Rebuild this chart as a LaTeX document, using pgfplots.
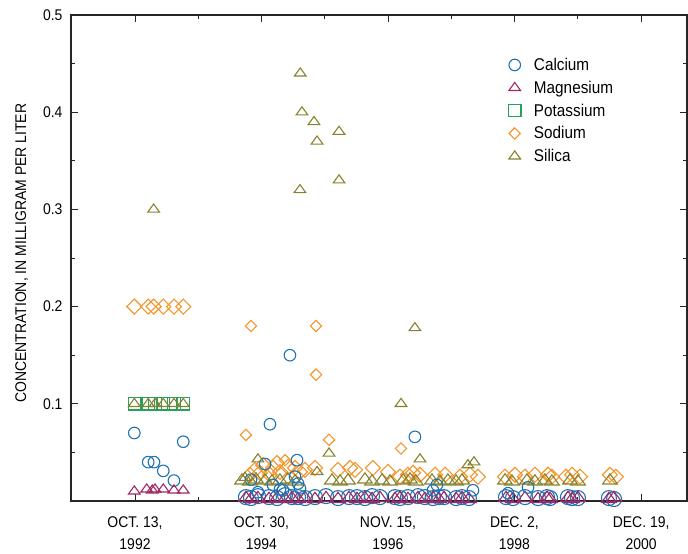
\documentclass[border=0pt]{standalone}
\usepackage{fontspec}
\setmainfont{Liberation Sans}[FakeStretch=0.9]
\usepackage{pgfplots}
\pgfplotsset{compat=1.18}
\definecolor{calc}{RGB}{30,115,180}
\definecolor{magn}{RGB}{160,40,100}
\definecolor{pota}{RGB}{40,160,90}
\definecolor{sodi}{RGB}{247,148,40}
\definecolor{sili}{RGB}{135,130,45}
\pgfplotsset{
 ca/.style={only marks, color=calc, mark=o, mark size=#1, mark options={solid, line width=1.1pt}},
 mg/.style={only marks, color=magn, mark=triangle, mark size=#1, mark options={solid, yscale=0.8, line width=1.1pt}},
 k/.style={only marks, color=pota, mark=square, mark size=#1, mark options={solid, line width=1.1pt}},
 na/.style={only marks, color=sodi, mark=square, mark size=#1, mark options={solid, rotate=45, line width=1.1pt}},
 si/.style={only marks, color=sili, mark=triangle, mark size=#1, mark options={solid, yscale=0.8, line width=1.1pt}},
}
% x = days since Oct. 13, 1992
\pgfplotstableread{
x y
-4 0.070
78 0.040
112 0.040
167 0.031
230 0.021
285 0.061
685 0.022
726 0.009
768 0.038
797 0.079
815 0.0165
856 0.012
874 0.011
915 0.150
945 0.025
957 0.042
963 0.018
974 0.013
1653 0.066
1760 0.011
1783 0.0165
1996 0.011
2203 0.008
2321 0.014
}\calcA
\pgfplotstableread{
x y
655 0.004
685 0.003
726 0.005
791 0.004
839 0.003
886 0.006
927 0.004
963 0.004
1004 0.003
1063 0.004
1128 0.005
1199 0.003
1264 0.004
1311 0.004
1358 0.003
1400 0.005
1447 0.004
1535 0.004
1565 0.003
1612 0.004
1671 0.005
1712 0.004
1760 0.003
1795 0.004
1825 0.004
1896 0.003
1931 0.004
1972 0.003
2191 0.004
2232 0.003
2303 0.004
2380 0.003
2433 0.004
2451 0.003
2557 0.004
2581 0.003
2616 0.003
2799 0.003
2829 0.002
}\calcB
\pgfplotstableread{
x y
-4 0.010
69 0.012
102 0.011
118 0.012
167 0.012
230 0.011
285 0.011
}\magnA
\pgfplotstableread{
x y
655 0.003
685 0.002
726 0.003
791 0.002
839 0.003
886 0.002
927 0.003
963 0.002
1004 0.003
1063 0.002
1128 0.003
1199 0.002
1264 0.003
1311 0.002
1358 0.003
1400 0.002
1447 0.003
1535 0.002
1565 0.003
1612 0.002
1671 0.003
1712 0.002
1760 0.003
1795 0.002
1825 0.003
1896 0.002
1931 0.003
1972 0.002
2191 0.003
2232 0.002
2303 0.003
2380 0.002
2433 0.003
2451 0.002
2557 0.003
2581 0.002
2616 0.003
2799 0.002
2829 0.003
}\magnB
\pgfplotstableread{
x y
-4 0.1
78 0.1
118 0.1
167 0.1
230 0.1
285 0.1
}\potA
\pgfplotstableread{
x y
655 0.068
685 0.18
1069 0.18
1069 0.13
1146 0.063
1571 0.054
886 0.042
}\sodA
\pgfplotstableread{
x y
-4 0.2
78 0.2
110 0.2
167 0.2
230 0.2
285 0.2
679 0.027
709 0.032
738 0.029
756 0.037
797 0.027
815 0.034
839 0.039
856 0.030
903 0.035
945 0.034
974 0.030
1004 0.032
1063 0.034
1199 0.032
1270 0.034
1299 0.032
1405 0.034
1494 0.030
1565 0.025
1612 0.027
1642 0.029
1683 0.027
1772 0.027
1831 0.027
1919 0.025
1978 0.027
2025 0.025
2185 0.025
2244 0.027
2303 0.025
2362 0.027
2439 0.027
2462 0.025
2545 0.025
2581 0.027
2628 0.025
2805 0.027
2840 0.025
}\sodB
\pgfplotstableread{
x y
110 0.3
-4 0.1
78 0.1
118 0.1
167 0.1
230 0.1
285 0.1
976 0.44
986 0.40
1057 0.39
1075 0.37
1205 0.38
1205 0.33
974 0.32
1653 0.178
1571 0.10
1146 0.049
726 0.043
1683 0.043
1075 0.030
1966 0.037
2002 0.040
650 0.024
}\silA
\pgfplotstableread{
x y
632 0.021
679 0.020
715 0.022
768 0.021
809 0.020
856 0.021
903 0.022
945 0.020
1163 0.021
1211 0.020
1258 0.021
1358 0.022
1400 0.020
1459 0.021
1506 0.020
1583 0.021
1624 0.022
1659 0.020
1754 0.021
1801 0.020
1848 0.021
1896 0.020
1931 0.021
2185 0.021
2226 0.020
2315 0.021
2362 0.020
2421 0.021
2462 0.020
2569 0.021
2616 0.020
2805 0.021
}\silB
\begin{document}
\begin{tikzpicture}
\begin{axis}[
 at={(0,0)}, anchor=south west,
 width=616pt, height=486pt, scale only axis,
 xmin=-378, xmax=3260, ymin=0, ymax=0.5,
 clip=false,
 xtick={0,747,1494,2241,2989},
 xticklabels={{OCT. 13,\\1992},{OCT. 30,\\1994},{NOV. 15,\\1996},{DEC. 2,\\1998},{DEC. 19,\\2000}},
 minor xtick={373,1120,1867,2615},
 ytick={0.1,0.2,0.3,0.4,0.5}, yticklabels={0.1,0.2,0.3,0.4,0.5},
 minor ytick={0.05,0.15,0.25,0.35,0.45},
 /pgf/number format/assume math mode=true,
 tick align=inside,
 major tick length=7pt, minor tick length=4pt,
 every tick/.style={black!85, line width=0.9pt},
 axis line style={line width=1.1pt, black!85},
 xticklabel style={align=center, font=\fontsize{15.5}{22.5}\selectfont, yshift=-12pt},
 yticklabel style={font=\fontsize{15.5}{18}\selectfont, xshift=-5pt},
 ylabel={CONCENTRATION, IN MILLIGRAM PER LITER},
 ylabel style={at={(rel axis cs:-0.08,0.51)}, anchor=center, font=\fontsize{15.5}{18}\selectfont},
 legend style={at={(rel axis cs:0.705,0.92)}, anchor=north west, draw=none, fill=none,
   font=\fontsize{17}{19}\selectfont, row sep=5pt,
   /tikz/every odd column/.append style={column sep=11pt}},
 legend cell align=left,
]
\addplot[ca=7.5pt, forget plot] table {\calcB};
\addplot[mg=8.5pt, forget plot] table {\magnB};
\addplot[na=5.3pt, forget plot] table {\sodB};
\addplot[si=8.5pt, forget plot] table {\silB};
\addplot[ca=5.8pt] table {\calcA};
\addlegendentry{Calcium}
\addplot[mg=6.75pt] table {\magnA};
\addlegendentry{Magnesium}
\addplot[k=6.25pt] table {\potA};
\addlegendentry{Potassium}
\addplot[na=4pt] table {\sodA};
\addlegendentry{Sodium}
\addplot[si=6.75pt] table {\silA};
\addlegendentry{Silica}
\end{axis}
\pgfresetboundingbox
\path (-71pt,-53pt) rectangle (617pt,501pt);
\end{tikzpicture}
\end{document}
